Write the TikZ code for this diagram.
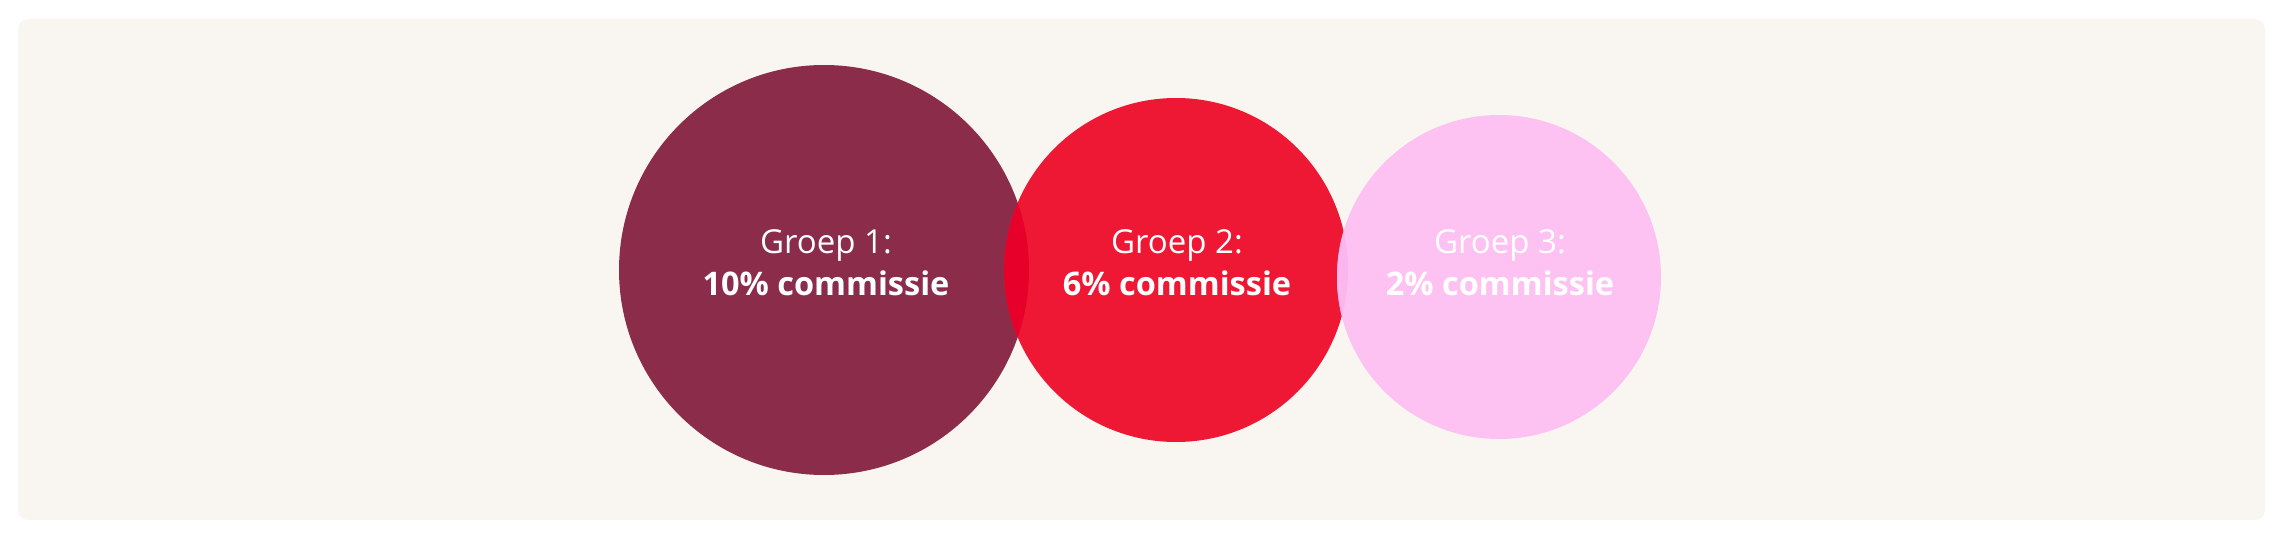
\documentclass[tikz,border=0pt]{standalone}
\usepackage{fontspec}
\setmainfont{Open Sans}
\definecolor{bgc}{HTML}{F9F6F2}
\definecolor{cone}{HTML}{8A2C4A}
\definecolor{ctwo}{HTML}{EF1834}
\definecolor{conetwo}{HTML}{E6002A}
\definecolor{cthree}{HTML}{FDC1F2}
\definecolor{ctwothree}{HTML}{FBB6EE}
\tikzset{
  lbl/.style={text=white, align=center, font=\fontsize{33}{42}\selectfont, inner sep=0pt},
  lblb/.style={lbl, font=\fontsize{32.5}{42}\selectfont\bfseries},
}
\begin{document}
\begin{tikzpicture}[x=1pt,y=-1pt]
\useasboundingbox (0,0) rectangle (2280,540);
\fill[bgc, rounded corners=10pt] (18,19) rectangle (2265,520);
\coordinate (c1) at (824,270);
\coordinate (c2) at (1176,270);
\coordinate (c3) at (1499,277);
\fill[cone] (c1) circle[radius=205];
\fill[ctwo] (c2) circle[radius=172];
\begin{scope}
  \clip (c1) circle[radius=205];
  \fill[conetwo] (c2) circle[radius=172];
\end{scope}
\fill[cthree] (c3) circle[radius=162];
\begin{scope}
  \clip (c2) circle[radius=172];
  \fill[ctwothree] (c3) circle[radius=162];
\end{scope}
\node[lbl, anchor=base] (t1a) at (826,253) {Groep 1:};
\node[lblb, anchor=base] (t1b) at (826,295) {10\% commissie};
\node[lbl, anchor=base] (t2a) at (1177,253) {Groep 2:};
\node[lblb, anchor=base] (t2b) at (1177,295) {6\% commissie};
\node[lbl, anchor=base] (t3a) at (1500,253) {Groep 3:};
\node[lblb, anchor=base] (t3b) at (1500,295) {2\% commissie};
\end{tikzpicture}
\end{document}
